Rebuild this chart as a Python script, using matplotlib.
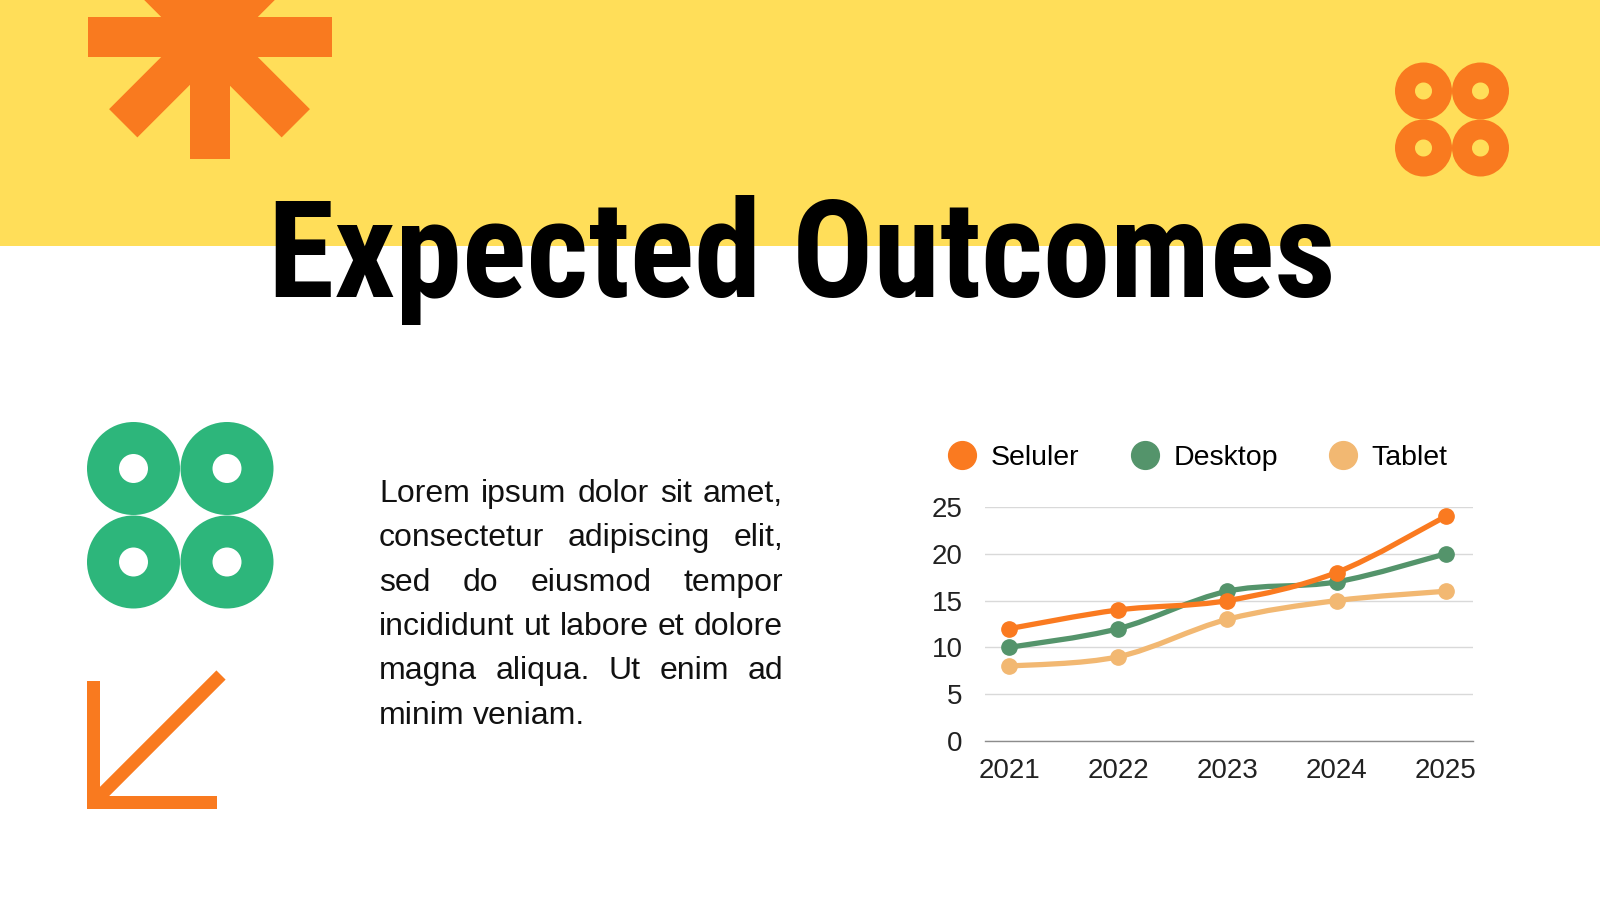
import numpy as np
import matplotlib
matplotlib.use('Agg')
import matplotlib.pyplot as plt
from matplotlib import font_manager
from matplotlib.patches import Polygon, Wedge, Rectangle, PathPatch
from matplotlib.path import Path
from matplotlib.lines import Line2D

# data
years = [2021, 2022, 2023, 2024, 2025]
seluler = [12, 14, 15, 18, 24]
desktop = [10, 12, 16, 17, 20]
tablet = [8, 9, 13, 15, 16]
series_names = ['Seluler', 'Desktop', 'Tablet']
y_ticks = [0, 5, 10, 15, 20, 25]

title = 'Expected Outcomes'
body_lines = ['Lorem ipsum dolor sit amet,',
              'consectetur adipiscing elit,',
              'sed do eiusmod tempor',
              'incididunt ut labore et dolore',
              'magna aliqua. Ut enim ad',
              'minim veniam.']

ORANGE = '#F97A1F'
GREEN = '#2DB67B'
YELLOW = '#FFDE59'
colors = ['#FA7A20', '#54946B', '#F2B872']

plt.rcParams['font.family'] = ['Liberation Sans', 'DejaVu Sans']

fig = plt.figure(figsize=(16, 9), dpi=100)
bg = fig.add_axes([0, 0, 1, 1])
bg.set_xlim(0, 1600)
bg.set_ylim(900, 0)
bg.axis('off')
r = fig.canvas.get_renderer()

# yellow band
bg.add_patch(Rectangle((0, 0), 1600, 246, color=YELLOW, lw=0))

# asterisk
cx, cy, arm, half = 209.5, 37, 122, 20
for ang in (0, 45, 90, 135):
    a = np.radians(ang)
    d = np.array([np.cos(a), np.sin(a)])
    n = np.array([-d[1], d[0]])
    c = np.array([cx, cy])
    pts = [c + d*arm + n*half, c - d*arm + n*half, c - d*arm - n*half, c + d*arm - n*half]
    bg.add_patch(Polygon(pts, closed=True, color=ORANGE, lw=0))


def rings(centers, r_out, r_in, color):
    for x, y in centers:
        bg.add_patch(Wedge((x, y), r_out, 0, 360, width=r_out - r_in, color=color, lw=0))


rings([(1423.5, 91), (1480.5, 91), (1423.5, 148), (1480.5, 148)], 28.5, 8.5, ORANGE)
rings([(133.5, 468.5), (227, 468.5), (133.5, 562), (227, 562)], 46.5, 14.5, GREEN)

# arrow
bg.add_patch(Rectangle((87, 681), 13, 128, color=ORANGE, lw=0))
bg.add_patch(Rectangle((87, 796), 130, 13, color=ORANGE, lw=0))
p0, p1 = np.array([93.5, 802.5]), np.array([221, 675])
d = (p1 - p0) / np.linalg.norm(p1 - p0)
n = np.array([-d[1], d[0]]) * 6.5
bg.add_patch(Polygon([p0 + n, p1 + n, p1 - n, p0 - n], closed=True, color=ORANGE, lw=0))

# title: a narrow bold face if there is one, sized to the reference width
names = {f.name for f in font_manager.fontManager.ttflist}
tfam, tweight = 'Lato', 'black'
for cand in ['Liberation Sans Narrow', 'Roboto Condensed', 'Open Sans Condensed',
             'DejaVu Sans Condensed', 'Noto Sans Condensed']:
    if cand in names:
        tfam, tweight = cand, 'bold'
        break
tt = bg.text(268, 297, title, va='baseline', ha='left', fontsize=100,
             family=[tfam, 'DejaVu Sans'], fontweight=tweight, color='black', zorder=5)
tt.set_fontsize(100 * 1068 / tt.get_window_extent(r).width)


# justified paragraph
def justify(line, y, x0, x1, last, **kw):
    words = line.split()
    ts = [bg.text(0, y, w, va='baseline', ha='left', **kw) for w in words]
    ws = [t.get_window_extent(r).width for t in ts]
    gap = 8 if last else (x1 - x0 - sum(ws)) / (len(words) - 1)
    x = x0
    for t, w in zip(ts, ws):
        t.set_x(x)
        x += w + gap


for i, line in enumerate(body_lines):
    justify(line, 502 + i * 44.3, 379, 783, i == len(body_lines) - 1,
            fontsize=23, color='#111111')

# chart
ax = fig.add_axes([985/1600, 1 - 741/900, (1473 - 985)/1600, (741 - 507)/900])
ax.patch.set_alpha(0)
ax.set_xlim(2020.78, 2025.25)
ax.set_ylim(0, 25)
for s in ['top', 'right', 'left']:
    ax.spines[s].set_visible(False)
ax.spines['bottom'].set_color('#8C8C8C')
ax.spines['bottom'].set_linewidth(1)
ax.set_yticks(y_ticks)
ax.set_xticks(years)
ax.grid(axis='y', color='#D9D9D9', lw=1)
ax.set_axisbelow(True)
ax.tick_params(axis='both', length=0, labelsize=20, labelcolor='#222222')
ax.tick_params(axis='y', pad=16)
ax.tick_params(axis='x', pad=12)


def smooth_path(xs, ys):
    pts = np.column_stack([xs, ys]).astype(float)
    verts = [pts[0]]
    codes = [Path.MOVETO]
    m = len(pts)
    for i in range(m - 1):
        pa = pts[max(i - 1, 0)]
        pb = pts[min(i + 2, m - 1)]
        verts += [pts[i] + (pts[i + 1] - pa) / 6, pts[i + 1] - (pb - pts[i]) / 6, pts[i + 1]]
        codes += [Path.CURVE4] * 3
    return Path(verts, codes)


for vals, col in zip([tablet, desktop, seluler], colors[::-1]):
    ax.add_patch(PathPatch(smooth_path(years, vals), fill=False, ec=col, lw=3.8,
                           capstyle='round', joinstyle='round', clip_on=False, zorder=2))
    ax.plot(years, vals, 'o', ms=11, color=col, clip_on=False, zorder=3)

handles = [Line2D([], [], marker='o', ls='', ms=20, color=c) for c in colors]
ax.legend(handles, series_names, loc='center', bbox_to_anchor=(1198/1600, 1 - 458/900),
          bbox_transform=fig.transFigure, ncol=3, frameon=False, fontsize=20.5,
          handlelength=1.0, handletextpad=0.5, columnspacing=1.8, borderpad=0)

fig.savefig('out.png', dpi=100)
